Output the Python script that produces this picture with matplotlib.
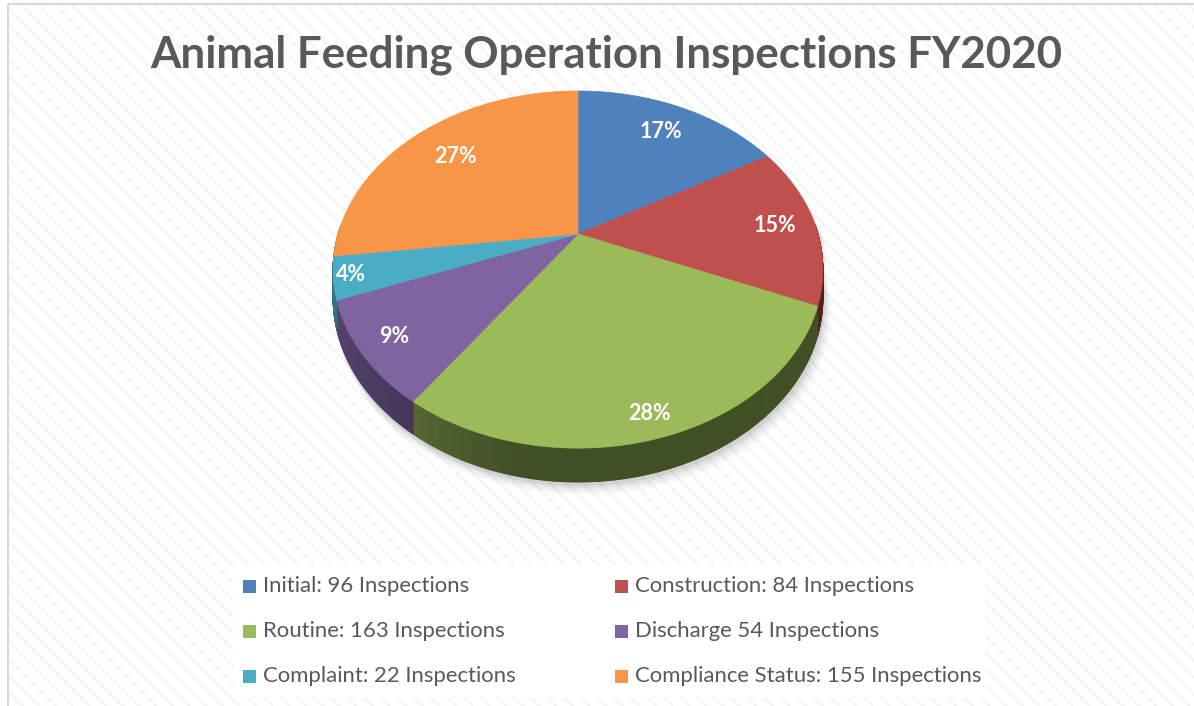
import numpy as np
import matplotlib
matplotlib.use("Agg")
import matplotlib.pyplot as plt
from matplotlib.patches import Polygon, Rectangle
from matplotlib.colors import to_rgb

# data
categories = ["Initial", "Construction", "Routine", "Discharge", "Complaint", "Compliance Status"]
inspections = [96, 84, 163, 54, 22, 155]
legend_labels = ["Initial: 96 Inspections", "Construction: 84 Inspections",
                 "Routine: 163 Inspections", "Discharge 54 Inspections",
                 "Complaint: 22 Inspections", "Compliance Status: 155 Inspections"]
colors = ["#4F81BD", "#C0504D", "#9BBB59", "#8064A2", "#4BACC6", "#F79646"]
title = "Animal Feeding Operation Inspections FY2020"

# layout of the tilted pie (pixels)
CX, CY = 578, 234        # apex
S, CS = 240, 171.5       # horizontal / vertical scale
K = 0.199                # perspective strength
DEPTH = 27.2
label_r = [0.78, 0.83, 0.9, 0.87, 0.93, 0.75]

W, H = 1194, 706
plt.rcParams['font.family'] = ['Lato', 'DejaVu Sans']
plt.rcParams['hatch.linewidth'] = 2.0
fig = plt.figure(figsize=(W / 100, H / 100), dpi=100)
ax = fig.add_axes([0, 0, 1, 1])
ax.set_xlim(0, W)
ax.set_ylim(H, 0)
ax.axis("off")

ax.add_patch(Rectangle((8, 4), W, H, facecolor="white", edgecolor="#f6f6f6",
                       linewidth=0, hatch="\\\\", zorder=0))
ax.add_patch(Rectangle((8, 4), W, H, facecolor="none", edgecolor="#d9d9d9",
                       linewidth=1.5, zorder=0.5))


def proj(xn, yn, depth=0.0):
    d = 1 - K * yn
    return CX + S * xn / d, CY + (CS * yn + depth) / d


vals = np.array(inspections, dtype=float)
frac = vals / vals.sum()
cw = np.concatenate([[0], np.cumsum(frac)]) * 360.0

# soft shadow
full = np.linspace(0, 2 * np.pi, 300)
xs, ys = np.cos(full), -np.sin(full)
for dx, dy, a in [(8, 12, 0.03), (6, 9, 0.04), (4, 6, 0.05), (2, 4, 0.06)]:
    pts = [proj(x, y, DEPTH if y > 0 else 0) for x, y in zip(xs, ys)]
    pts = [(px + dx * (1 if px > CX else 0.3), py + dy) for px, py in pts]
    ax.add_patch(Polygon(pts, closed=True, facecolor="black", alpha=a,
                         edgecolor="none", zorder=1))

# side walls
for i in range(len(vals)):
    th = np.radians(90 - np.linspace(cw[i], cw[i + 1], 200))
    base = np.array(to_rgb(colors[i]))
    for a0, a1 in zip(th[:-1], th[1:]):
        x0, y0 = np.cos(a0), -np.sin(a0)
        x1, y1 = np.cos(a1), -np.sin(a1)
        if max(y0, y1) < -0.05:
            continue
        xm = (x0 + x1) / 2
        f = 0.42 + 0.26 * np.clip((-xm - 0.2) / 0.8, 0, 1)
        c = tuple(base * f)
        quad = [proj(x0, y0), proj(x1, y1), proj(x1, y1, DEPTH), proj(x0, y0, DEPTH)]
        ax.add_patch(Polygon(quad, closed=True, facecolor=c, edgecolor=c,
                             linewidth=0.6, zorder=2))

# top faces
for i in range(len(vals)):
    th = np.radians(90 - np.linspace(cw[i], cw[i + 1], 200))
    pts = [proj(0, 0)] + [proj(np.cos(a), -np.sin(a)) for a in th]
    ax.add_patch(Polygon(pts, closed=True, facecolor=colors[i],
                         edgecolor=colors[i], linewidth=0.5, zorder=3))
    mid = np.radians(90 - (cw[i] + cw[i + 1]) / 2)
    lx, ly = proj(label_r[i] * np.cos(mid), -label_r[i] * np.sin(mid))
    ax.text(lx, ly, f"{frac[i] * 100:.0f}%", color="white", fontsize=15.5,
            fontweight="bold", ha="center", va="center", zorder=4)

# title
ax.text(606, 55, title, fontsize=31.6, fontweight="bold", color="#595959",
        ha="center", va="center", zorder=5)

# legend
ax.add_patch(Rectangle((234, 565), 751, 132, facecolor="white",
                       edgecolor="none", zorder=1))
col_x = [243, 615]
row_y = [586, 631, 676]
for i, lab in enumerate(legend_labels):
    r, c = divmod(i, 2)
    ax.add_patch(Rectangle((col_x[c], row_y[r] - 6.5), 13, 13,
                           facecolor=colors[i], edgecolor="none", zorder=5))
    ax.text(col_x[c] + 20, row_y[r], lab, fontsize=15.9, color="#595959",
            ha="left", va="center", zorder=5)

fig.savefig("out.png", dpi=100)
